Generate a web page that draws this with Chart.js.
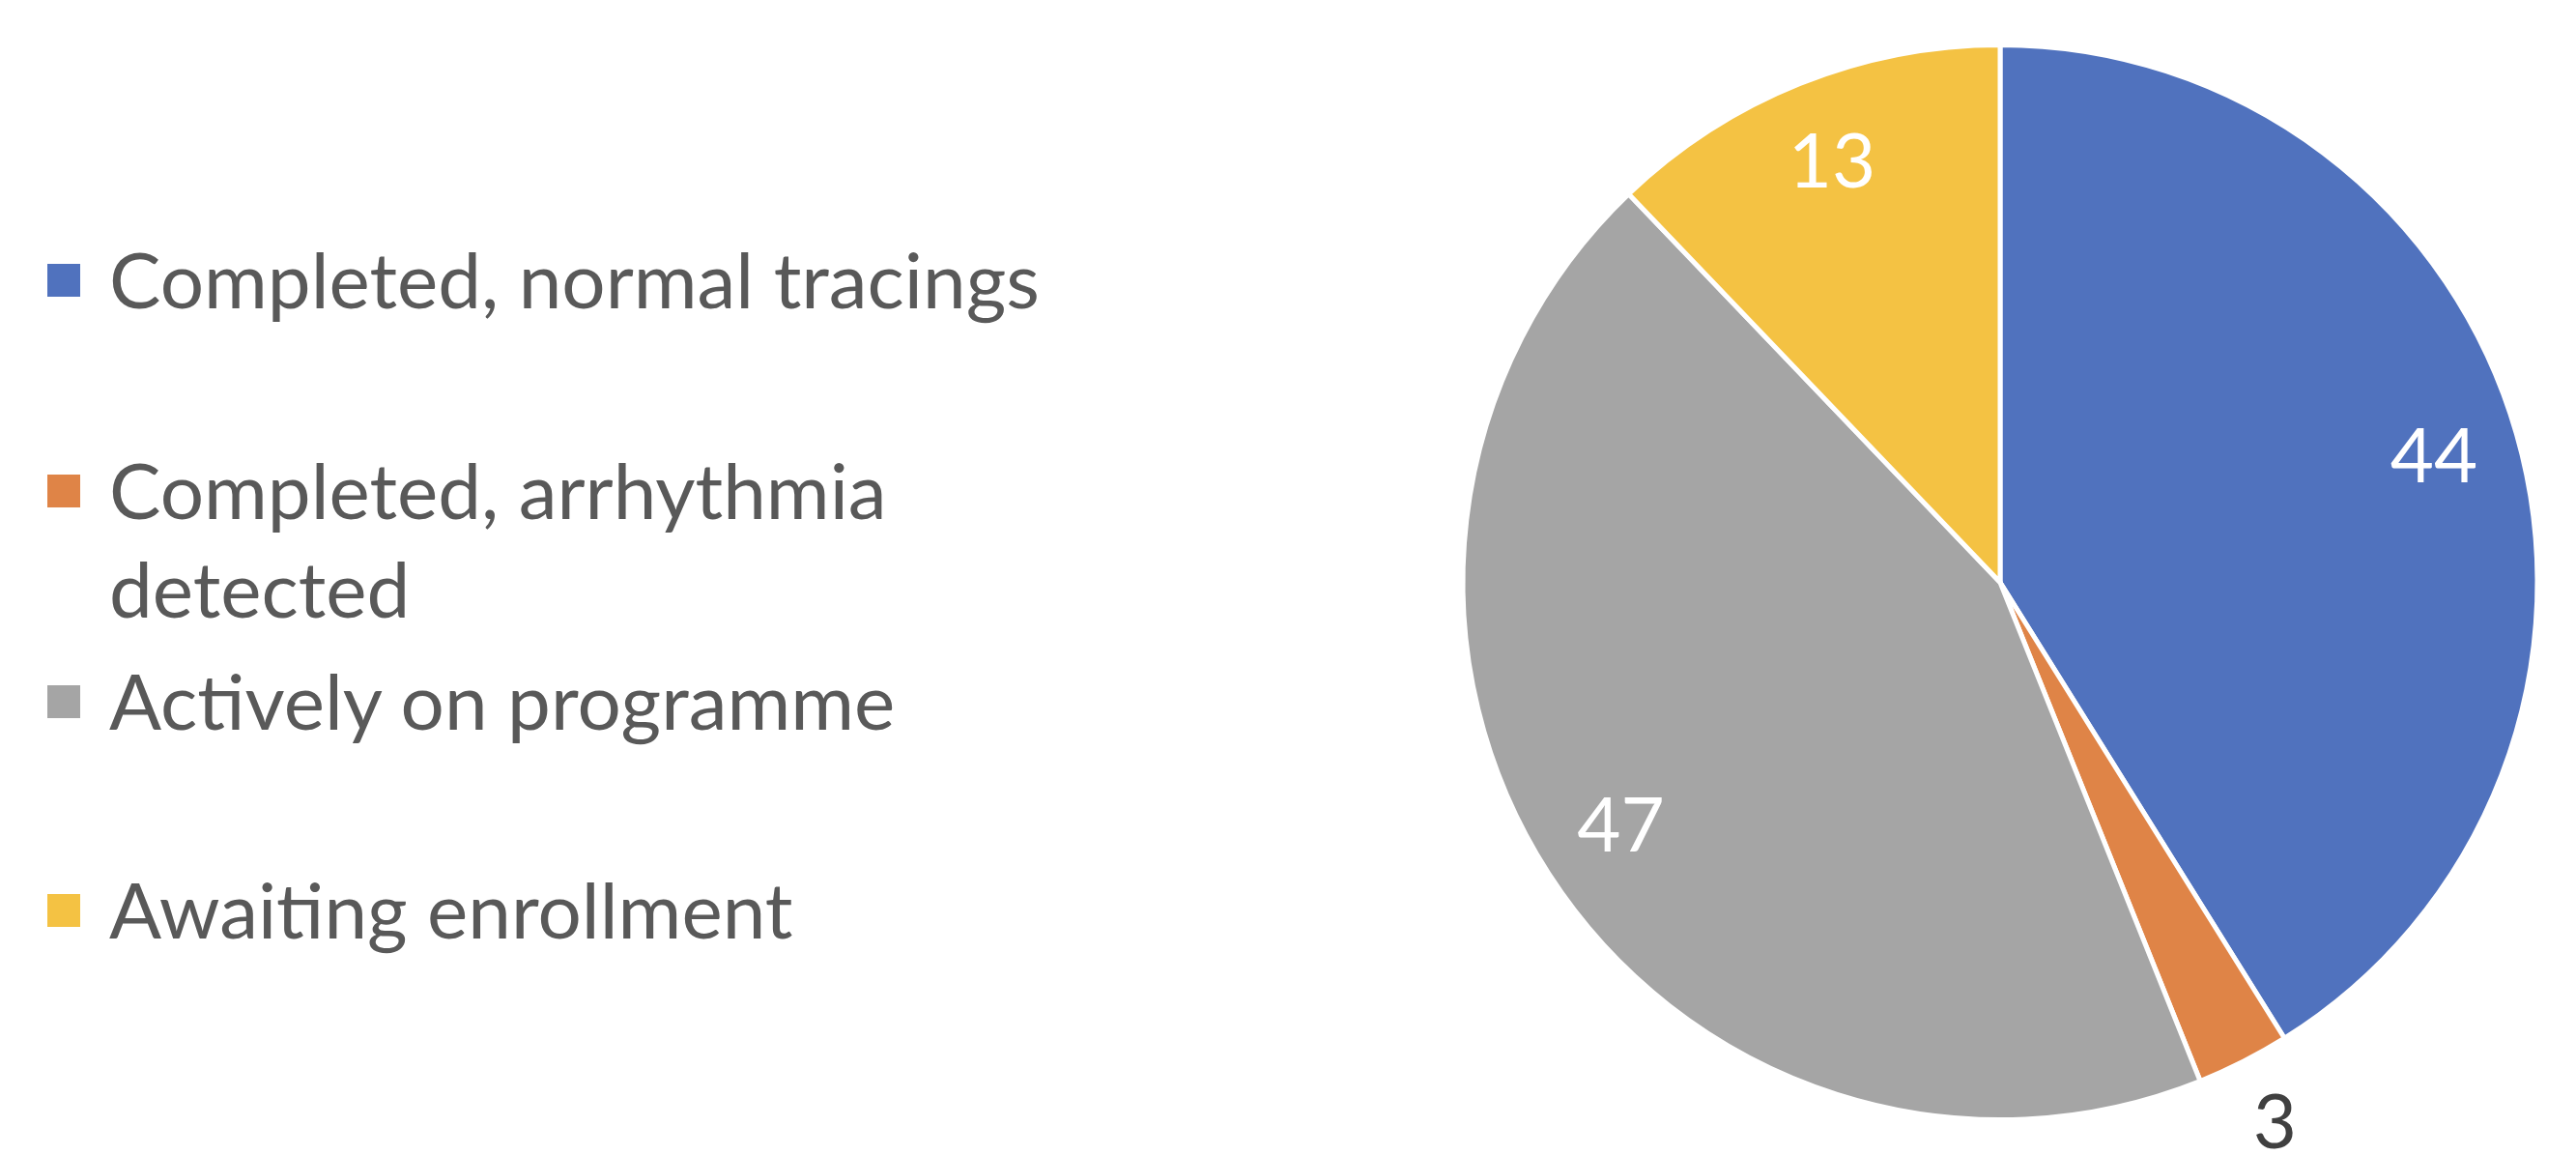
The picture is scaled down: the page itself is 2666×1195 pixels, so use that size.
<!DOCTYPE html>
<html>
<head>
<meta charset="utf-8">
<script src="https://cdn.jsdelivr.net/npm/chart.js@4"></script>
<style>
  html, body { margin: 0; padding: 0; background: #fff; }
  #wrap { position: relative; width: 2666px; height: 1195px; }
  #legend { position: absolute; left: 49px; top: 237px; font-family: Lato, sans-serif; font-size: 80px; color: #595959; }
  .item { display: flex; align-items: flex-start; line-height: 102px; }
  .item:nth-child(2) { margin-top: 116px; }
  .item:nth-child(3) { margin-top: 14px; }
  .item:nth-child(4) { margin-top: 114px; }
  .box { width: 34px; height: 34px; margin-top: 36px; margin-right: 30px; flex: none; }
  .txt { max-width: 1060px; }
</style>
</head>
<body>
<div id="wrap">
  <canvas id="pieChart" width="2666" height="1195"></canvas>
  <div id="legend"></div>
</div>
<script>
  let labels = ['Completed, normal tracings', 'Completed, arrhythmia detected', 'Actively on programme', 'Awaiting enrollment'];
  let values = [44, 3, 47, 13];
  let colors = ['#5072BE', '#DF8447', '#A5A5A5', '#F4C243'];

  // legend drawn as html so the long label wraps like in the original
  let legend = document.getElementById('legend');
  labels.forEach((l, i) => {
    let item = document.createElement('div');
    item.className = 'item';
    item.innerHTML = '<div class="box" style="background:' + colors[i] + '"></div><div class="txt">' + l + '</div>';
    legend.appendChild(item);
  });

  // value labels: inside the slice, small slices go outside
  let sliceLabels = {
    id: 'sliceLabels',
    afterDatasetsDraw(chart) {
      let ctx = chart.ctx;
      let total = values.reduce((a, b) => a + b, 0);
      chart.getDatasetMeta(0).data.forEach((arc, i) => {
        let p = arc.getProps(['x', 'y', 'startAngle', 'endAngle', 'outerRadius'], true);
        let mid = (p.startAngle + p.endAngle) / 2;
        let small = values[i] / total < 0.05;
        let r = p.outerRadius * (small ? 1.13 : 0.84);
        ctx.save();
        ctx.font = '78px Lato, sans-serif';
        ctx.fillStyle = small ? '#404040' : '#ffffff';
        ctx.textAlign = 'center';
        ctx.textBaseline = 'middle';
        ctx.fillText(String(values[i]), p.x + Math.cos(mid) * r, p.y + Math.sin(mid) * r);
        ctx.restore();
      });
    }
  };

  let ctx1 = document.getElementById('pieChart').getContext('2d');
  let myChart1 = new Chart(ctx1, {
    type: 'pie',
    data: {
      labels: labels,
      datasets: [{
        data: values,
        backgroundColor: colors,
        borderColor: '#ffffff',
        borderWidth: 5
      }]
    },
    options: {
      responsive: false,
      animation: false,
      layout: { padding: { left: 1507, right: 33, top: 44, bottom: 34 } },
      plugins: {
        legend: { display: false },
        tooltip: { enabled: false }
      }
    },
    plugins: [sliceLabels]
  });
</script>
</body>
</html>
